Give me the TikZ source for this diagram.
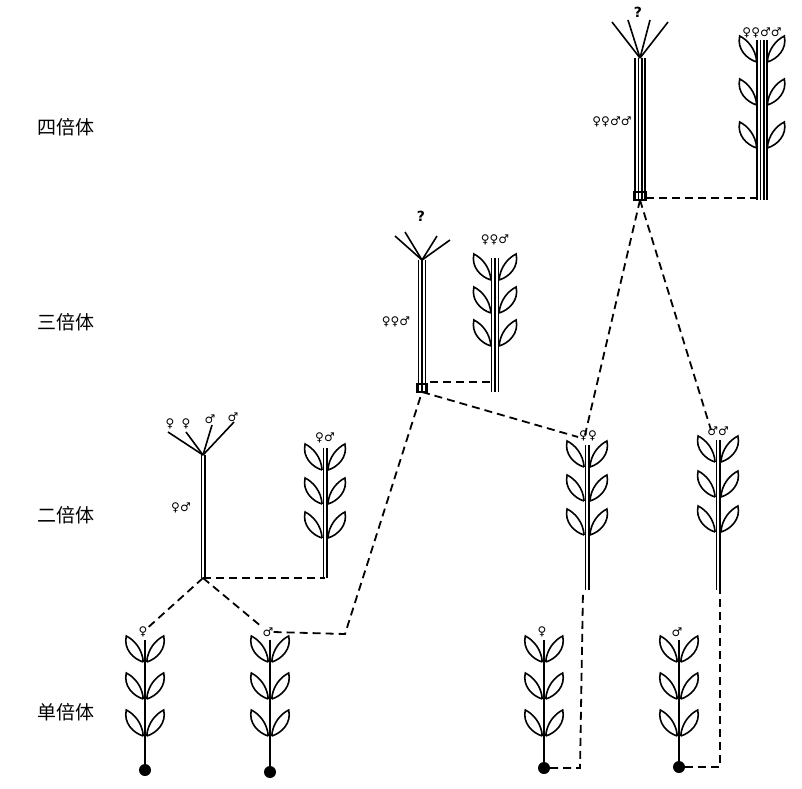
\documentclass[tikz,border=0pt]{standalone}
\usepackage{fontspec}
\newfontfamily\cjk{Noto Sans CJK SC}
\newfontfamily\sym{DejaVu Sans}
\tikzset{
  leaf/.pic={
    \draw[line width=1.6pt] (0,0) .. controls (-1,-13) and (-9,-22) .. (-17,-26)
      .. controls (-20,-13) and (-10,-3) .. (0,0);
  },
  pics/plant/.style n args={3}{
    code={
      \foreach \i in {1,...,#1}
        \draw[line width=1.6pt] ({(\i-(#1+1)/2)*3.4},0) -- ++(0,#2);
      \foreach \k in {0,1,2} {
        \pic at ({-0.5-1.2*#1},{22+#3*\k}) {leaf};
        \pic[xscale=-1] at ({0.5+1.2*#1},{22+#3*\k}) {leaf};
      }
    }
  },
  pics/bare/.style n args={2}{
    code={
      \foreach \i in {1,...,#1}
        \draw[line width=1.6pt] ({(\i-(#1+1)/2)*3.4},0) -- ++(0,#2);
    }
  },
  twig/.style={line width=1.6pt},
  sex/.style={font=\sym\fontsize{12}{12}\selectfont\bfseries, inner sep=0pt},
  qmark/.style={font=\sym\fontsize{14}{14}\selectfont\bfseries},
  lvl/.style={font=\cjk\fontsize{19}{19}\selectfont},
  link/.style={line width=1.8pt, dash pattern=on 8pt off 5pt},
  seed/.style={circle, fill, inner sep=0pt, minimum size=12pt},
}
\begin{document}
\begin{tikzpicture}[x=1pt,y=-1pt]
  \useasboundingbox (0,0) rectangle (802,788);

  % levels
  \node[lvl] (t4) at (66,127) {四倍体};
  \node[lvl] (t3) at (66,322) {三倍体};
  \node[lvl] (t2) at (66,515) {二倍体};
  \node[lvl] (t1) at (66,712) {单倍体};

  % haploids
  \foreach \x/\b/\s [count=\n] in {145/770/♀,270/772/♂,544/768/♀,679/767/♂} {
    \pic at (\x,640) {plant={1}{\b-640}{37}};
    \node[seed] (seed\n) at (\x,\b) {};
    \node[sex] (hs\n) at (\x-2,632) {\s};
  }

  % diploids
  \pic (d1) at (203,455) {bare={2}{123}};
  \foreach \tx/\ty in {168/432, 186/432, 212/425, 234/422}
    \draw[twig] (203,455) -- (\tx,\ty);
  \node[sex] at (170,424) {♀}; \node[sex] at (186,424) {♀};
  \node[sex] at (210,419) {♂}; \node[sex] at (233,417) {♂};
  \node[sex] at (181,508) {♀♂};
  \coordinate (d1b) at (203,578);
  \pic at (325,448) {plant={2}{130}{34}};
  \node[sex] at (325,438) {♀♂};
  \coordinate (d2b) at (325,578);

  \pic at (587,445) {plant={2}{145}{34}};
  \node[sex] at (588,436) {♀♀};
  \coordinate (d3t) at (578,437);
  \coordinate (d3b) at (583,590);
  \pic at (718,440) {plant={2}{150}{35}};
  \node[sex] at (718,431) {♂♂};
  \coordinate (d4t) at (711,430);
  \coordinate (d4b) at (720,590);

  % triploids
  \pic at (422,260) {bare={3}{132}};
  \draw[twig] (417,384) rectangle (427,392);
  \foreach \tx/\ty in {395/236, 405/232, 437/236, 450/240}
    \draw[twig] (422,260) -- (\tx,\ty);
  \node[qmark] at (421,216) {?};
  \node[sex] at (396,322) {♀♀♂};
  \coordinate (r1b) at (422,392);
  \pic at (495,258) {plant={3}{134}{33}};
  \node[sex] at (495,240) {♀♀♂};

  % tetraploids
  \pic at (640,58) {bare={4}{142}};
  \draw[twig] (634,192) rectangle (646,200);
  \foreach \tx/\ty in {612/22, 628/20, 650/20, 668/22}
    \draw[twig] (640,58) -- (\tx,\ty);
  \node[qmark] at (638,12) {?};
  \node[sex] at (612,122) {♀♀♂♂};
  \coordinate (q1b) at (640,200);
  \pic at (762,40) {plant={4}{160}{43}};
  \node[sex] at (762,33) {♀♀♂♂};

  % links
  \draw[link] (d1b) -- (hs1);
  \draw[link] (d1b) -- (hs2);
  \draw[link] (d1b) -- (d2b);
  \draw[link] (hs2.east) -- (345,634) -- (r1b);
  \draw[link] (430,382) -- (490,382);
  \draw[link] (r1b) -- (d3t);
  \draw[link] (seed3) -- (580,768) -- (d3b);
  \draw[link] (seed4) -- (720,767) -- (d4b);
  \draw[link] (646,198) -- (760,198);
  \draw[link] (q1b) -- (585,435);
  \draw[link] (q1b) -- (d4t);
\end{tikzpicture}
\end{document}
